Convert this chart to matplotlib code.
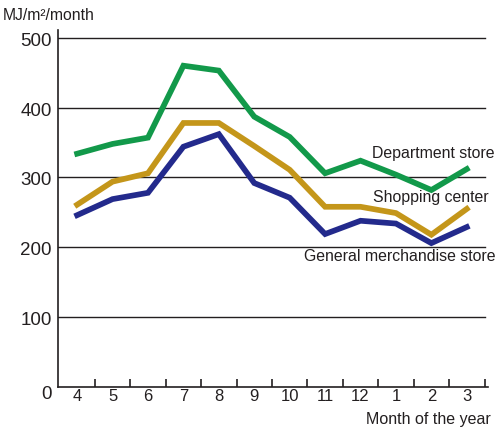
import numpy as np
import matplotlib.pyplot as plt

plt.rcParams['font.family'] = ['Liberation Sans', 'DejaVu Sans']

months = ['4', '5', '6', '7', '8', '9', '10', '11', '12', '1', '2', '3']
department = [334, 348, 357, 460, 453, 387, 358, 306, 324, 304, 282, 312]
shopping = [261, 294, 306, 378, 378, 345, 311, 258, 258, 249, 218, 255]
general = [246, 269, 278, 344, 362, 292, 271, 219, 238, 234, 206, 229]
yticks = [0, 100, 200, 300, 400, 500]

c_green = '#12994a'
c_gold = '#c4961a'
c_navy = '#232a8c'
c_text = '#231f20'

fig = plt.figure(figsize=(4.97, 4.29), dpi=100)
ax = fig.add_axes([0.1167, 0.0979, 0.8653, 0.832])

x = np.arange(len(months))
for yv in yticks[1:]:
    ax.plot([-0.54, 11.5], [yv, yv], color=c_text, lw=1.0, zorder=1)

ax.plot(x, department, color=c_green, lw=4.1, zorder=3, solid_joinstyle='miter')
ax.plot(x, shopping, color=c_gold, lw=4.1, zorder=3, solid_joinstyle='miter')
ax.plot(x, general, color=c_navy, lw=4.1, zorder=3, solid_joinstyle='miter')

ax.set_xlim(-0.54, 11.6)
ax.set_ylim(0, 511)

for s in ['top', 'right']:
    ax.spines[s].set_visible(False)
for s in ['left', 'bottom']:
    ax.spines[s].set_color(c_text)
    ax.spines[s].set_linewidth(1.2)

ax.set_yticks([])
ax.set_xticks(x + 0.5)
ax.set_xticklabels([])
ax.tick_params(axis='x', direction='in', length=6, width=1.2, color=c_text)

for i, m in enumerate(months):
    ax.text(i, -13, m, ha='center', va='center', fontsize=12, color=c_text)
for yv in yticks:
    off = -11 if yv == 0 else -5
    ax.text(-0.72, yv + off, str(yv), ha='right', va='center', fontsize=13.5, color=c_text)

fig.text(0.006, 0.965, 'MJ/m²/month', ha='left', va='center', fontsize=11.3, color=c_text)
fig.text(0.988, 0.022, 'Month of the year', ha='right', va='center', fontsize=11.5, color=c_text)

ax.text(11.78, 334, 'Department store', ha='right', va='center', fontsize=11.4, color=c_text)
ax.text(11.62, 271, 'Shopping center', ha='right', va='center', fontsize=11.4, color=c_text)
ax.text(11.82, 187, 'General merchandise store', ha='right', va='center', fontsize=11.4, color=c_text)

fig.savefig('out.png', dpi=100)
